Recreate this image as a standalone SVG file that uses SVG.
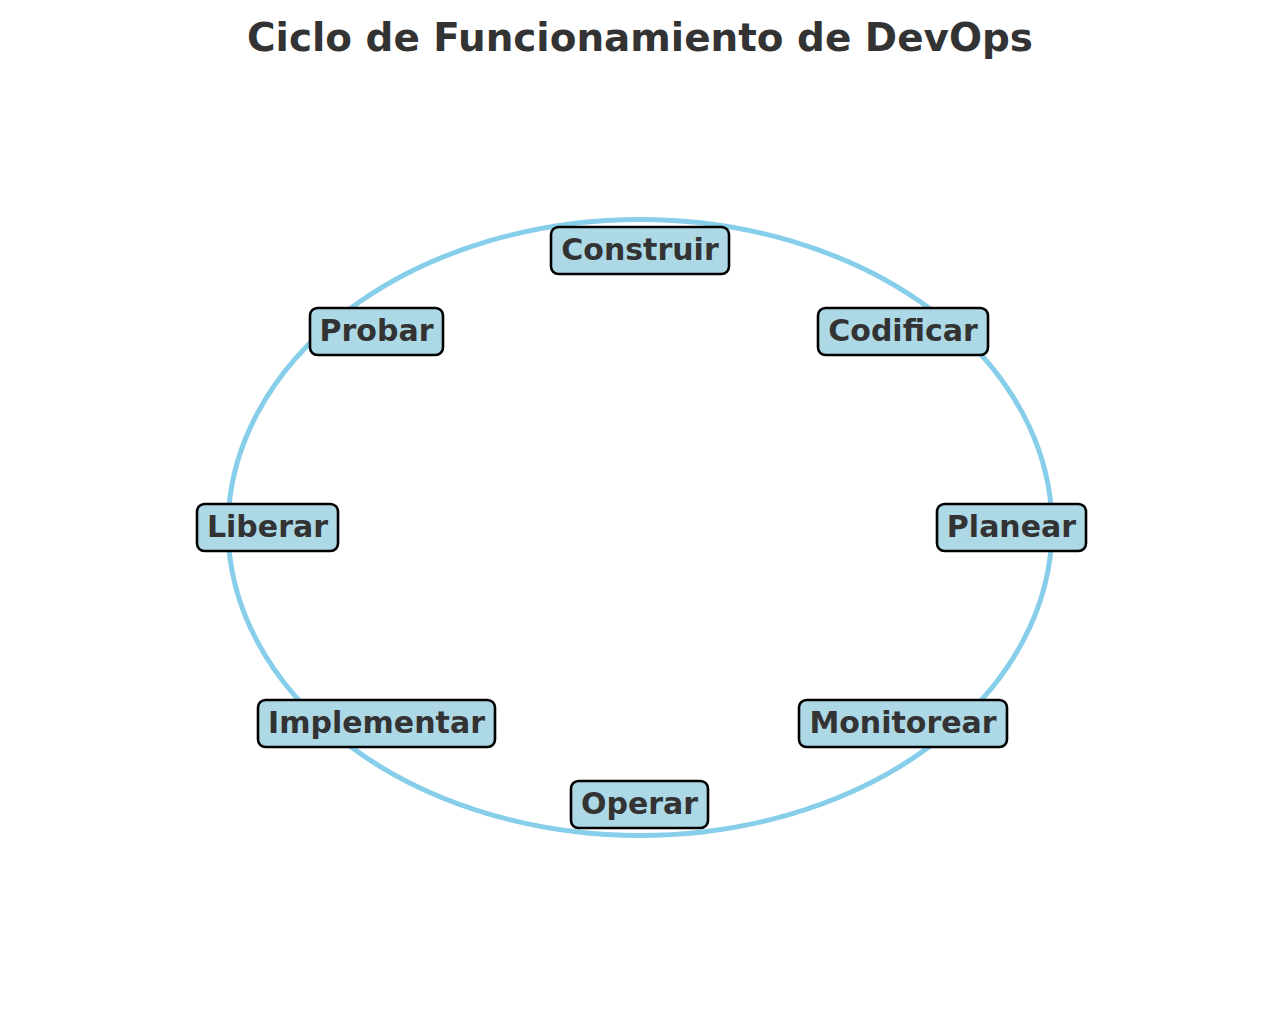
<svg xmlns="http://www.w3.org/2000/svg" width="1280" height="1010" viewBox="0 0 1280 1010">
<style>
.box{fill:#ADD8E6;stroke:#000;stroke-width:2.6}
.lbl{font-family:"DejaVu Sans",sans-serif;font-weight:bold;font-size:30px;fill:#333;text-anchor:middle}
.title{font-family:"DejaVu Sans",sans-serif;font-weight:bold;font-size:38.9px;fill:#333;text-anchor:middle}
</style>
<rect width="1280" height="1010" fill="#fff"/>
<text class="title" x="640" y="51">Ciclo de Funcionamiento de DevOps</text>
<g id="connectors">
<ellipse cx="640" cy="527.5" rx="412" ry="308" fill="none" stroke="#87CEEB" stroke-width="5"/>
</g>
<g id="construir"><rect class="box" x="551" y="227" width="178" height="47" rx="7.5"/><text class="lbl" x="640" y="260">Construir</text></g>
<g id="probar"><rect class="box" x="310" y="308" width="133" height="47" rx="7.5"/><text class="lbl" x="376.5" y="341">Probar</text></g>
<g id="codificar"><rect class="box" x="818" y="308" width="170" height="47" rx="7.5"/><text class="lbl" x="903" y="341">Codificar</text></g>
<g id="liberar"><rect class="box" x="197" y="504" width="141" height="47" rx="7.5"/><text class="lbl" x="267.5" y="537">Liberar</text></g>
<g id="planear"><rect class="box" x="937" y="504" width="149" height="47" rx="7.5"/><text class="lbl" x="1011.5" y="537">Planear</text></g>
<g id="implementar"><rect class="box" x="258" y="700" width="237" height="47" rx="7.5"/><text class="lbl" x="376.5" y="733">Implementar</text></g>
<g id="monitorear"><rect class="box" x="799" y="700" width="208" height="47" rx="7.5"/><text class="lbl" x="903" y="733">Monitorear</text></g>
<g id="operar"><rect class="box" x="571" y="781" width="137" height="47" rx="7.5"/><text class="lbl" x="639.5" y="814">Operar</text></g>
</svg>
